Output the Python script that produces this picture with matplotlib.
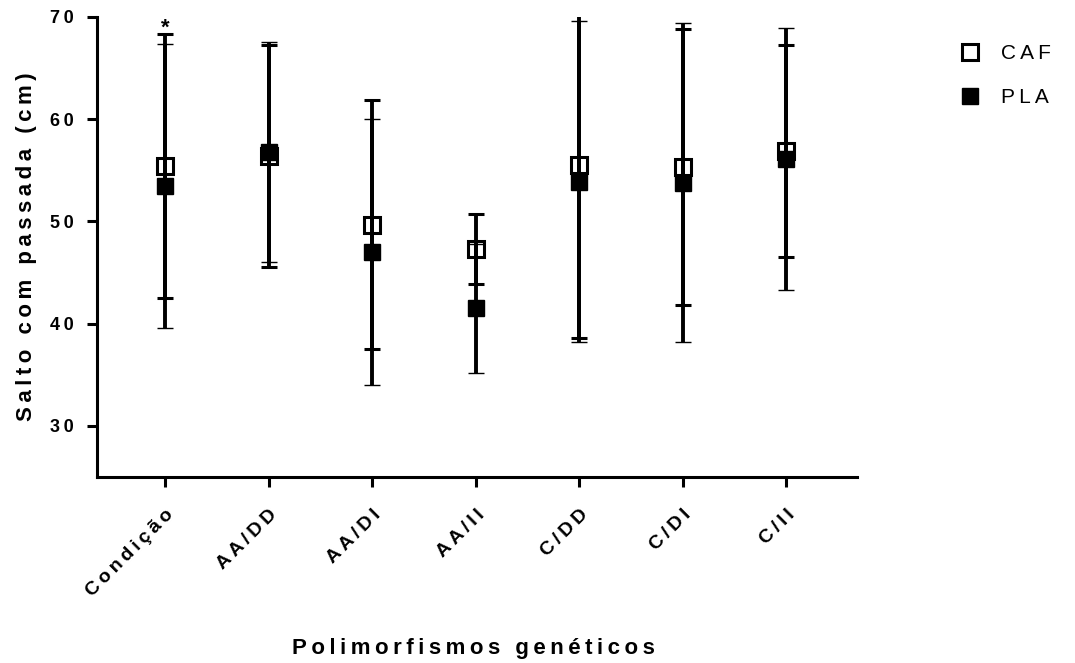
import matplotlib
matplotlib.use("Agg")
import matplotlib.pyplot as plt
from matplotlib.lines import Line2D
import numpy as np

plt.rcParams['font.family'] = ['Liberation Sans', 'DejaVu Sans']

# data (mean and SD per group)
categories = ['Condição', 'AA/DD', 'AA/DI', 'AA/II', 'C/DD', 'C/DI', 'C/II']
caf_mean = [55.4, 56.4, 49.7, 47.3, 55.5, 55.3, 56.9]
caf_sd = [12.9, 10.9, 12.2, 3.4, 16.9, 13.5, 10.4]
pla_mean = [53.5, 56.8, 47.0, 41.5, 53.9, 53.8, 56.1]
pla_sd = [13.9, 10.8, 13.0, 6.3, 15.7, 15.6, 12.8]
yticks = [30, 40, 50, 60, 70]


def spaced(s):
    # Prism-like wide letter spacing
    return '\u2009'.join(s)


x = np.arange(len(categories))

fig = plt.figure(figsize=(10.75, 6.63), dpi=100)
ax = fig.add_axes([0.0902, 0.2805, 0.7068, 0.6939])

ax.errorbar(x, caf_mean, yerr=caf_sd, fmt='s', color='black', ms=11, mew=2.2,
            mfc='none', mec='black', elinewidth=2.8, capsize=6, capthick=2.4,
            zorder=3)
ax.errorbar(x, pla_mean, yerr=pla_sd, fmt='s', color='black', ms=11, mew=1,
            mfc='black', mec='black', elinewidth=2.8, capsize=6, capthick=2.4,
            zorder=4)

# significance mark
ax.text(x[0], caf_mean[0] + caf_sd[0] - 0.4, '*', ha='center', va='bottom',
        fontsize=16, fontweight='bold')

ax.set_xlim(-0.66, len(categories) - 1 + 0.68)
ax.set_ylim(25, 70)
ax.set_yticks(yticks)
ax.set_yticklabels([spaced(str(t)) for t in yticks], fontsize=13, fontweight='bold')
ax.set_xticks(x)
ax.set_xticklabels([spaced(c) for c in categories], rotation=45, ha='right',
                   rotation_mode='anchor', fontsize=14, fontweight='bold')

for side in ['top', 'right']:
    ax.spines[side].set_visible(False)
for side in ['left', 'bottom']:
    ax.spines[side].set_linewidth(2.2)
ax.tick_params(axis='both', width=2.2, length=7, direction='out')
ax.tick_params(axis='x', pad=14)
ax.tick_params(axis='y', pad=10)

ax.set_ylabel(spaced('Salto com passada (cm)'), fontsize=16, fontweight='bold')
ax.yaxis.set_label_coords(-0.079, 0.5)
fig.text(0.44, 0.006, spaced('Polimorfismos genéticos'), ha='center', va='bottom',
         fontsize=16, fontweight='bold')

handles = [
    Line2D([], [], ls='none', marker='s', ms=11, mew=2.2, mfc='none', mec='black'),
    Line2D([], [], ls='none', marker='s', ms=11, mfc='black', mec='black'),
]
fig.legend(handles, [spaced('CAF'), spaced('PLA')], loc='upper left',
           bbox_to_anchor=(0.875, 0.962), frameon=False, fontsize=15,
           handletextpad=1.0, labelspacing=1.2, handlelength=1.0)

fig.savefig('out.png', dpi=100)
